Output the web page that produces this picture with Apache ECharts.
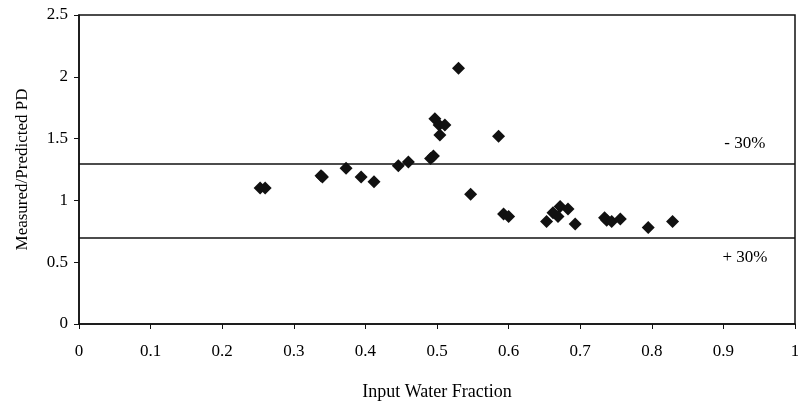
<!DOCTYPE html>
<html>
<head>
<meta charset="utf-8">
<script src="https://cdn.jsdelivr.net/npm/echarts@6/dist/echarts.min.js"></script>
<style>
  html, body { margin: 0; padding: 0; background: #fff; }
  #chart { width: 798px; height: 405px; }
</style>
</head>
<body>
<div id="chart"></div>
<script>
// input water fraction vs measured/predicted PD
const waterFraction = [
  0.253, 0.260, 0.338, 0.340, 0.373, 0.394, 0.412, 0.446, 0.460,
  0.491, 0.495, 0.497, 0.503, 0.511, 0.504, 0.530, 0.586, 0.547,
  0.593, 0.600, 0.653, 0.662, 0.669, 0.672, 0.683, 0.693,
  0.734, 0.737, 0.744, 0.756, 0.795, 0.829
];
const pdRatio = [
  1.10, 1.10, 1.20, 1.19, 1.26, 1.19, 1.15, 1.28, 1.31,
  1.34, 1.36, 1.66, 1.61, 1.61, 1.53, 2.07, 1.52, 1.05,
  0.89, 0.87, 0.83, 0.90, 0.87, 0.95, 0.93, 0.81,
  0.86, 0.84, 0.83, 0.85, 0.78, 0.83
];
const bandLimits = [1.3, 0.7];
const bandLabels = ["- 30%", "+ 30%"];
const bandLabelPos = [[0.93, 1.46], [0.93, 0.54]];

const points = waterFraction.map((x, i) => [x, pdRatio[i]]);

let myChart = echarts.init(document.getElementById("chart"));
const font = "Liberation Serif";

let option = {
  animation: false,
  grid: {
    left: 79,
    right: 3,
    top: 15,
    bottom: 81,
    outerBoundsMode: "none",
    show: true,
    borderColor: "#111",
    borderWidth: 1.5,
  },
  xAxis: {
    type: "value",
    min: 0,
    max: 1,
    interval: 0.1,
    name: "Input Water Fraction",
    nameLocation: "middle",
    nameGap: 59,
    nameTextStyle: { fontFamily: font, fontSize: 18, color: "#000" },
    axisLine: { lineStyle: { color: "#111", width: 1.5 } },
    axisTick: { length: 5, lineStyle: { color: "#111" } },
    axisLabel: { fontFamily: font, fontSize: 17, color: "#000", margin: 19 },
    splitLine: { show: false },
  },
  yAxis: {
    type: "value",
    min: 0,
    max: 2.5,
    interval: 0.5,
    name: "Measured/Predicted PD",
    nameLocation: "middle",
    nameGap: 48,
    nameTextStyle: { fontFamily: font, fontSize: 17, color: "#000" },
    axisLine: { show: true, lineStyle: { color: "#111", width: 1.5 } },
    axisTick: { show: true, length: 5, lineStyle: { color: "#111" } },
    axisLabel: { fontFamily: font, fontSize: 17, color: "#000", margin: 11 },
    splitLine: { show: false },
  },
  series: [
    {
      type: "scatter",
      symbol: "diamond",
      symbolSize: 13,
      itemStyle: { color: "#111", opacity: 1 },
      data: points,
      markLine: {
        silent: true,
        symbol: "none",
        label: { show: false },
        lineStyle: { color: "#111", width: 1.5, type: "solid" },
        data: bandLimits.map((v) => ({ yAxis: v })),
      },
      markPoint: {
        silent: true,
        symbol: "circle",
        symbolSize: 0,
        label: {
          show: true,
          position: "inside",
          fontFamily: font,
          fontSize: 17,
          color: "#000",
          formatter: (p) => p.name,
        },
        data: bandLabels.map((t, i) => ({ name: t, coord: bandLabelPos[i] })),
      },
    },
  ],
};

myChart.setOption(option);
</script>
</body>
</html>
